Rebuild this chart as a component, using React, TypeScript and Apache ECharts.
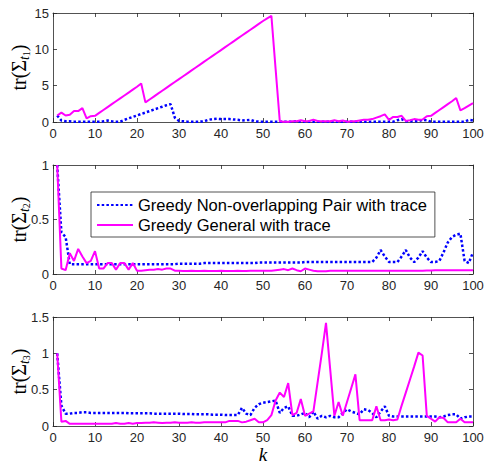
import React, { useEffect, useRef } from "react";
import * as echarts from "echarts";

const K = Array.from({ length: 100 }, (_, i) => i + 1);

const NAME_PAIR = "Greedy Non-overlapping Pair with trace";
const NAME_GEN = "Greedy General with trace";

// Panel 1: tr(Sigma_t1)
const p1Pair = [
  0.9, 0.2, 0.1, 0.1, 0.05, 0.05, 0.05, 0.05, 0.05, 0.05,
  0.05, 0.1, 0.2, 0.1, 0.05, 0.05, 0.3, 0.5, 0.7, 0.9,
  1.1, 1.3, 1.5, 1.7, 1.9, 2.1, 2.3, 2.45, 0.6, 0.15,
  0.1, 0.05, 0.05, 0.05, 0.05, 0.1, 0.3, 0.4, 0.45, 0.4,
  0.4, 0.4, 0.35, 0.3, 0.2, 0.25, 0.3, 0.1, 0.05, 0.05,
  0.05, 0.05, 0.05, 0.05, 0.05, 0.05, 0.05, 0.1, 0.05, 0.05,
  0.05, 0.05, 0.05, 0.05, 0.05, 0.05, 0.05, 0.05, 0.05, 0.05,
  0.05, 0.05, 0.05, 0.05, 0.05, 0.05, 0.05, 0.05, 0.05, 0.05,
  0.05, 0.25, 0.4, 0.1, 0.1, 0.1, 0.1, 0.3, 0.25, 0.05,
  0.05, 0.05, 0.05, 0.05, 0.05, 0.05, 0.05, 0.05, 0.3, 0.2,
];
const p1Gen = [
  0.9, 1.3, 0.9, 1.0, 1.5, 1.5, 1.9, 0.5, 0.8, 0.85,
  1.25, 1.65, 2.05, 2.45, 2.85, 3.25, 3.65, 4.05, 4.45, 4.85,
  5.3, 2.7, 3.1, 3.5, 3.9, 4.3, 4.7, 5.1, 5.5, 5.9,
  6.3, 6.7, 7.1, 7.5, 7.9, 8.3, 8.7, 9.1, 9.5, 9.9,
  10.3, 10.7, 11.1, 11.5, 11.9, 12.3, 12.7, 13.1, 13.5, 13.9,
  14.25, 14.6, 7.3, 0.1, 0.05, 0.05, 0.1, 0.1, 0.25, 0.1,
  0.15, 0.3, 0.15, 0.1, 0.1, 0.1, 0.25, 0.1, 0.2, 0.05,
  0.1, 0.1, 0.2, 0.3, 0.3, 0.4, 0.6, 0.8, 1.05, 0.3,
  0.7, 0.7, 0.85, 0.15, 0.25, 0.4, 0.3, 0.35, 0.8, 0.85,
  1.25, 1.65, 2.05, 2.45, 2.85, 3.3, 1.6, 1.9, 2.25, 2.6,
];

// Panel 2: tr(Sigma_t2)
const p2Pair = [
  1.0, 0.38, 0.34, 0.09, 0.09, 0.09, 0.09, 0.09, 0.09, 0.09,
  0.09, 0.09, 0.09, 0.09, 0.09, 0.09, 0.09, 0.09, 0.09, 0.09,
  0.09, 0.09, 0.09, 0.09, 0.09, 0.09, 0.09, 0.09, 0.09, 0.095,
  0.095, 0.095, 0.095, 0.095, 0.095, 0.1, 0.1, 0.1, 0.1, 0.1,
  0.1, 0.1, 0.1, 0.1, 0.1, 0.1, 0.1, 0.1, 0.105, 0.105,
  0.105, 0.105, 0.105, 0.105, 0.105, 0.105, 0.105, 0.105, 0.105, 0.11,
  0.11, 0.11, 0.11, 0.11, 0.11, 0.11, 0.11, 0.11, 0.11, 0.11,
  0.11, 0.11, 0.11, 0.11, 0.11, 0.11, 0.15, 0.22, 0.16, 0.11,
  0.11, 0.11, 0.16, 0.22, 0.15, 0.11, 0.15, 0.21, 0.15, 0.11,
  0.11, 0.12, 0.2, 0.29, 0.34, 0.36, 0.37, 0.12, 0.1, 0.2,
];
const p2Gen = [
  1.0, 0.05, 0.035, 0.19, 0.12, 0.23, 0.16, 0.1, 0.12, 0.21,
  0.05, 0.05, 0.1, 0.1, 0.04, 0.1, 0.1, 0.04, 0.1, 0.03,
  0.03, 0.035, 0.04, 0.04, 0.045, 0.04, 0.05, 0.05, 0.03, 0.03,
  0.028, 0.028, 0.03, 0.028, 0.028, 0.03, 0.028, 0.028, 0.028, 0.03,
  0.028, 0.028, 0.028, 0.03, 0.028, 0.028, 0.03, 0.03, 0.03, 0.03,
  0.03, 0.03, 0.035, 0.04, 0.045, 0.035, 0.05, 0.035, 0.025, 0.05,
  0.04, 0.03, 0.025, 0.025, 0.025, 0.03, 0.03, 0.03, 0.03, 0.03,
  0.03, 0.03, 0.03, 0.03, 0.03, 0.03, 0.03, 0.03, 0.03, 0.03,
  0.03, 0.03, 0.03, 0.03, 0.03, 0.03, 0.03, 0.03, 0.032, 0.032,
  0.034, 0.034, 0.034, 0.035, 0.035, 0.035, 0.035, 0.035, 0.035, 0.035,
];

// Panel 3: tr(Sigma_t3)
const p3Pair = [
  1.0, 0.28, 0.17, 0.17, 0.18, 0.18, 0.19, 0.19, 0.18, 0.18,
  0.18, 0.18, 0.18, 0.18, 0.18, 0.18, 0.18, 0.175, 0.175, 0.175,
  0.175, 0.175, 0.175, 0.17, 0.17, 0.17, 0.17, 0.17, 0.17, 0.17,
  0.165, 0.165, 0.165, 0.16, 0.16, 0.16, 0.16, 0.155, 0.155, 0.155,
  0.15, 0.15, 0.15, 0.15, 0.25, 0.17, 0.15, 0.25, 0.3, 0.32,
  0.33, 0.34, 0.35, 0.18, 0.25, 0.27, 0.14, 0.14, 0.16, 0.18,
  0.12, 0.2, 0.1, 0.14, 0.12, 0.14, 0.12, 0.12, 0.18, 0.23,
  0.2, 0.18, 0.16, 0.23, 0.22, 0.18, 0.12, 0.2, 0.27, 0.14,
  0.13, 0.13, 0.13, 0.13, 0.13, 0.13, 0.13, 0.13, 0.13, 0.13,
  0.13, 0.12, 0.13, 0.15, 0.16, 0.16, 0.1, 0.12, 0.13, 0.13,
];
const p3Gen = [
  1.0, 0.06, 0.07, 0.03, 0.03, 0.03, 0.03, 0.03, 0.03, 0.03,
  0.03, 0.03, 0.03, 0.03, 0.04, 0.03, 0.03, 0.04, 0.03, 0.04,
  0.04, 0.045, 0.045, 0.05, 0.045, 0.04, 0.045, 0.045, 0.05, 0.045,
  0.045, 0.045, 0.05, 0.045, 0.045, 0.05, 0.05, 0.05, 0.05, 0.05,
  0.05, 0.07, 0.07, 0.07, 0.05, 0.06, 0.08, 0.1, 0.05, 0.05,
  0.08, 0.15, 0.35, 0.46, 0.4, 0.59, 0.15, 0.18, 0.37, 0.14,
  0.17, 0.2, 0.6, 1.0, 1.42, 0.78, 0.14, 0.33, 0.14, 0.33,
  0.52, 0.71, 0.08, 0.08, 0.08, 0.08, 0.27, 0.08, 0.08, 0.09,
  0.08, 0.09, 0.28, 0.46, 0.64, 0.82, 1.01, 0.97, 0.14, 0.1,
  0.06, 0.12, 0.11, 0.05, 0.05, 0.05, 0.1, 0.05, 0.05, 0.05,
];

const Y_MAX = [15, 1, 1.5];
const Y_INTERVAL = [5, 0.5, 0.5];
const Y_SUB = ["1", "2", "3"];
const PAIR_DATA = [p1Pair, p2Pair, p3Pair];
const GEN_DATA = [p1Gen, p2Gen, p3Gen];

const AX = "#262626";
const BLUE = "#0000ff";
const MAGENTA = "#ff00ff";

export default function App() {
  const ref = useRef<HTMLDivElement>(null);
  useEffect(() => {
    if (!ref.current) return;
    const chart = echarts.init(ref.current, undefined, { renderer: "svg" });
    const tops = [13, 165, 317];
    const grids = tops.map((t) => ({
      left: 53, top: t, width: 420, height: 109, containLabel: false, outerBoundsMode: "none",
    }));
    const axisLine = { show: true, onZero: false, lineStyle: { color: AX, width: 0.8 } };
    const axisTick = { show: true, inside: true, length: 4, lineStyle: { color: AX, width: 0.8 } };
    const xAxes: any[] = [];
    const yAxes: any[] = [];
    for (let i = 0; i < 3; i++) {
      xAxes.push({
        gridIndex: i, type: "value", min: 0, max: 100, interval: 10, position: "bottom",
        axisLine, axisTick, splitLine: { show: false },
        axisLabel: { color: AX, fontSize: 13, fontFamily: "Liberation Sans", margin: 5, lineHeight: 13 },
        ...(i === 2
          ? {
              name: "k", nameLocation: "middle", nameGap: 21, nameMoveOverlap: false,
              nameTextStyle: {
                fontFamily: "Liberation Serif", fontStyle: "italic", fontSize: 19, color: "#000", lineHeight: 14,
              },
            }
          : {}),
      });
    }
    for (let i = 0; i < 3; i++) {
      xAxes.push({
        gridIndex: i, type: "value", min: 0, max: 100, interval: 10, position: "top",
        axisLine, axisTick, splitLine: { show: false }, axisLabel: { show: false },
      });
    }
    for (let i = 0; i < 3; i++) {
      yAxes.push({
        gridIndex: i, type: "value", min: 0, max: Y_MAX[i], interval: Y_INTERVAL[i], position: "left",
        axisLine, axisTick, splitLine: { show: false },
        axisLabel: { color: AX, fontSize: 13, fontFamily: "Liberation Sans", margin: 4 },
        name: `{a|tr(Σ}{b|t}{c|${Y_SUB[i]}}{a|)}`,
        nameLocation: "middle", nameRotate: 90, nameGap: 22, nameMoveOverlap: false,
        nameTextStyle: {
          rich: {
            a: { fontFamily: "Liberation Serif", fontSize: 20, color: "#000", lineHeight: 24, verticalAlign: "middle" },
            b: { fontFamily: "Liberation Serif", fontStyle: "italic", fontSize: 14, color: "#000", lineHeight: 14, verticalAlign: "bottom" },
            c: { fontFamily: "Liberation Serif", fontSize: 10, color: "#000", lineHeight: 6, verticalAlign: "bottom" },
          },
        },
      });
    }
    for (let i = 0; i < 3; i++) {
      yAxes.push({
        gridIndex: i, type: "value", min: 0, max: Y_MAX[i], interval: Y_INTERVAL[i], position: "right",
        axisLine, axisTick, splitLine: { show: false }, axisLabel: { show: false },
      });
    }
    const series: any[] = [];
    for (let i = 0; i < 3; i++) {
      series.push({
        type: "line", name: NAME_PAIR, xAxisIndex: i, yAxisIndex: i,
        data: K.map((k, j) => [k, PAIR_DATA[i][j]]),
        symbol: "none", showSymbol: false,
        lineStyle: { color: BLUE, width: 2.5, type: [2.5, 2.2], cap: "butt" },
        itemStyle: { color: BLUE },
      });
      series.push({
        type: "line", name: NAME_GEN, xAxisIndex: i, yAxisIndex: i,
        data: K.map((k, j) => [k, GEN_DATA[i][j]]),
        symbol: "none", showSymbol: false,
        lineStyle: { color: MAGENTA, width: 2 },
        itemStyle: { color: MAGENTA },
      });
    }
    chart.setOption({
      animation: false,
      backgroundColor: "#fff",
      grid: grids,
      xAxis: xAxes,
      yAxis: yAxes,
      legend: {
        data: [NAME_PAIR, NAME_GEN],
        orient: "vertical",
        left: 91, top: 192,
        padding: [4, 8, 3, 5],
        itemWidth: 36, itemHeight: 18, itemGap: 2,
        backgroundColor: "#fff",
        borderColor: AX, borderWidth: 0.8, borderRadius: 0,
        itemStyle: { opacity: 0 },
        textStyle: { fontFamily: "Liberation Sans", fontSize: 16.5, color: "#000", lineHeight: 18 },
      },
      series,
    });
    return () => chart.dispose();
  }, []);
  return <div ref={ref} style={{ position: "absolute", left: 0, top: 0, width: 484, height: 463 }} />;
}
